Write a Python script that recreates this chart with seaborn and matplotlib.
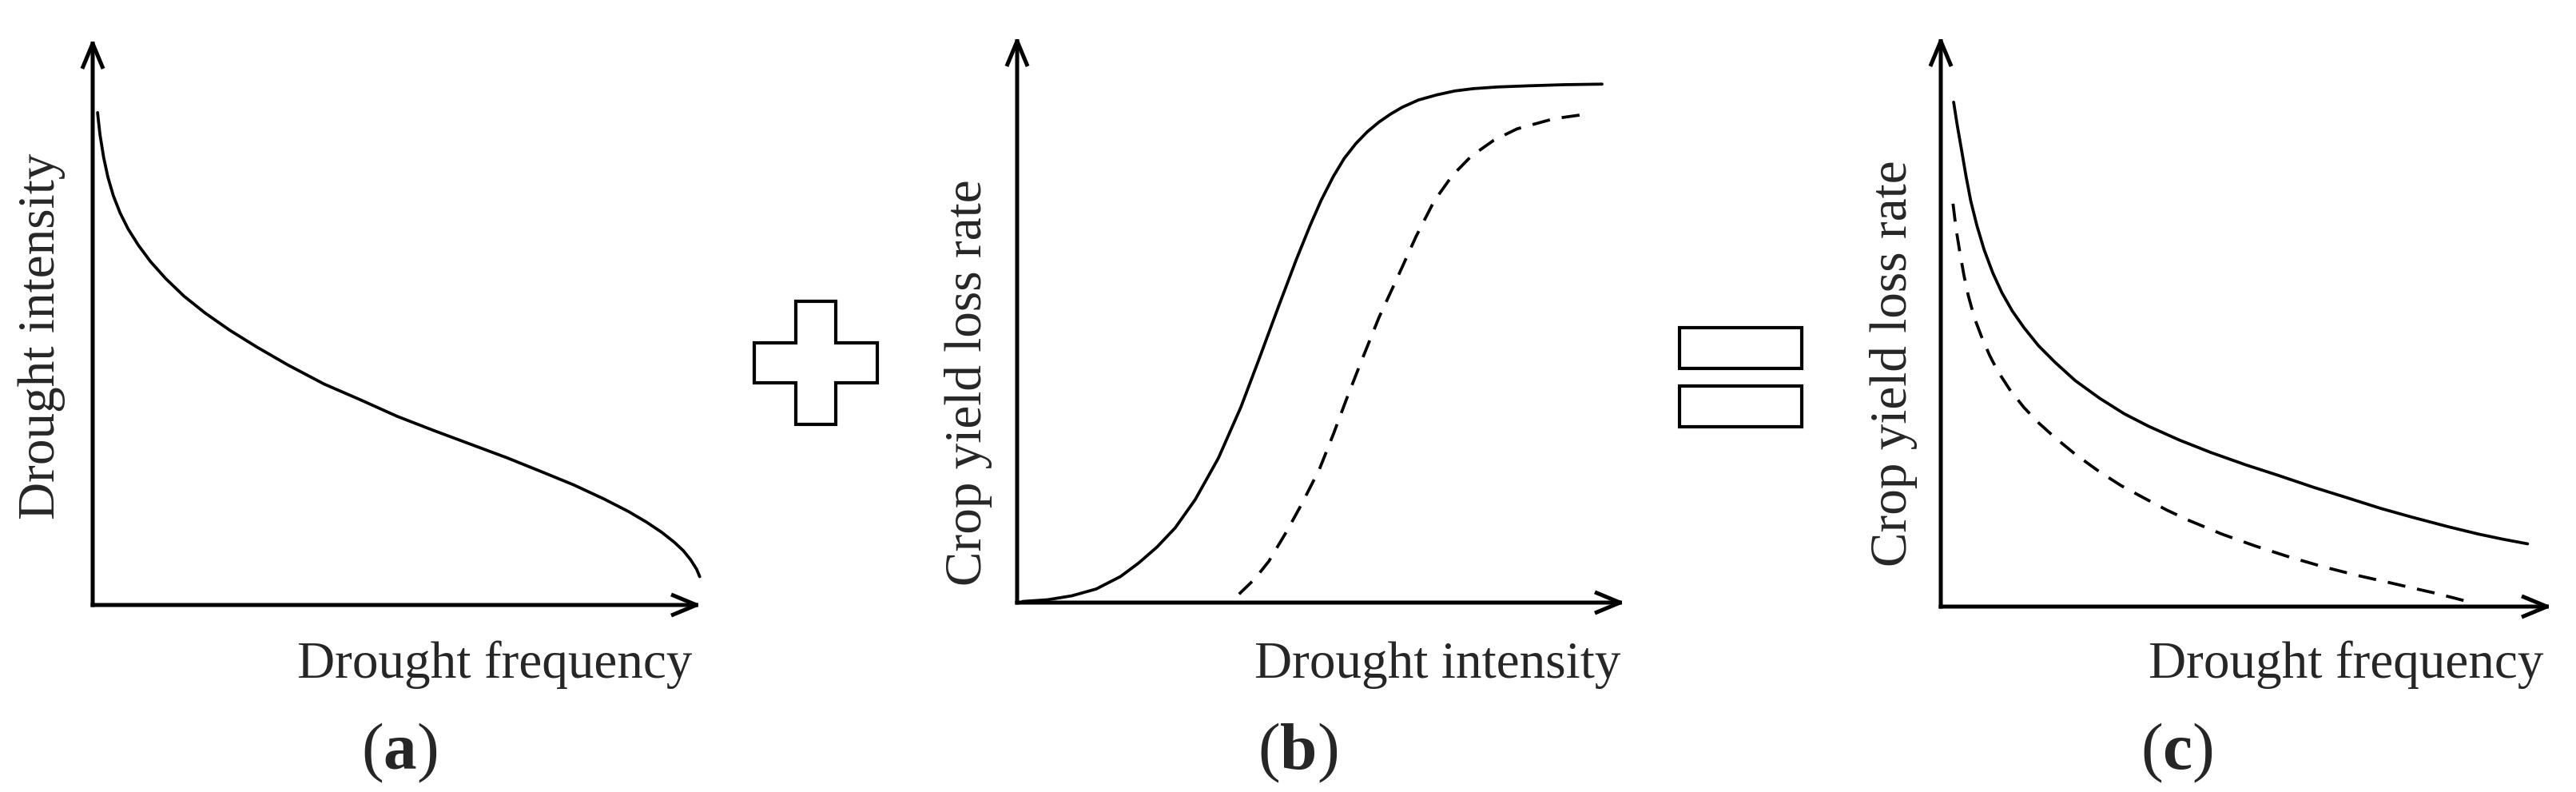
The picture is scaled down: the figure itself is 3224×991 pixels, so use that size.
import numpy as np
import pandas as pd
import matplotlib
matplotlib.use('Agg')
import matplotlib.pyplot as plt
import matplotlib.patches as mpatches
import seaborn as sns

# Curve values (arbitrary 0-10 units on both axes)
# (a) drought intensity vs drought frequency
a_freq = [0.08, 0.12, 0.18, 0.25, 0.34, 0.45, 0.58, 0.75, 0.95, 1.2, 1.5, 1.85,
          2.25, 2.7, 3.2, 3.8, 4.4, 5.0, 5.6, 6.2, 6.8, 7.4, 7.9, 8.4, 8.8, 9.1,
          9.35, 9.55, 9.7, 9.82, 9.92, 9.97]
a_int = [8.69, 8.30, 7.90, 7.55, 7.22, 6.92, 6.64, 6.35, 6.06, 5.76, 5.45, 5.15,
         4.85, 4.55, 4.24, 3.90, 3.62, 3.33, 3.08, 2.84, 2.60, 2.34, 2.12, 1.87,
         1.65, 1.46, 1.28, 1.11, 0.96, 0.80, 0.63, 0.50]

# (b) crop yield loss rate vs drought intensity
b_int_solid = [0.09, 0.5, 0.9, 1.3, 1.7, 2.0, 2.3, 2.6, 2.93, 3.31, 3.68, 3.99,
               4.29, 4.59, 4.82, 5.0, 5.2, 5.38, 5.57, 5.76, 5.95, 6.14, 6.33,
               6.6, 6.9, 7.2, 7.5, 7.9, 8.4, 9.0, 9.62]
b_loss_solid = [0.02, 0.05, 0.12, 0.24, 0.46, 0.70, 0.98, 1.32, 1.82, 2.55, 3.45,
                4.33, 5.20, 6.05, 6.66, 7.10, 7.52, 7.84, 8.10, 8.31, 8.48, 8.62,
                8.74, 8.87, 8.96, 9.03, 9.07, 9.10, 9.12, 9.14, 9.15]
b_int_dash = [3.65, 3.91, 4.14, 4.44, 4.67, 4.97, 5.20, 5.42, 5.65, 5.95, 6.26,
              6.56, 6.86, 7.16, 7.47, 7.84, 8.22, 8.83, 9.36]
b_loss_dash = [0.15, 0.42, 0.73, 1.27, 1.72, 2.35, 2.97, 3.60, 4.23, 5.03, 5.75,
               6.46, 7.09, 7.54, 7.88, 8.16, 8.36, 8.54, 8.62]

# (c) crop yield loss rate vs drought frequency
c_freq_solid = [0.21, 0.27, 0.34, 0.41, 0.49, 0.59, 0.71, 0.85, 1.0, 1.17, 1.36,
                1.6, 1.87, 2.2, 2.6, 3.0, 3.4, 3.9, 4.42, 5.0, 5.52, 6.1, 6.61,
                7.2, 7.7, 8.3, 8.8, 9.2, 9.6]
c_loss_solid = [8.84, 8.43, 8.00, 7.56, 7.11, 6.68, 6.25, 5.85, 5.50, 5.18, 4.89,
                4.57, 4.28, 3.96, 3.65, 3.38, 3.16, 2.92, 2.70, 2.48, 2.30, 2.09,
                1.92, 1.72, 1.57, 1.40, 1.27, 1.18, 1.10]
c_freq_dash = [0.2, 0.25, 0.31, 0.38, 0.45, 0.55, 0.67, 0.8, 0.93, 1.13, 1.36,
               1.6, 1.87, 2.2, 2.6, 2.95, 3.33, 3.7, 4.06, 4.6, 5.15, 5.7, 6.25,
               6.8, 7.34, 7.7, 8.07, 8.4, 8.72]
c_loss_dash = [7.06, 6.62, 6.22, 5.80, 5.45, 5.06, 4.72, 4.40, 4.13, 3.80, 3.49,
               3.22, 2.96, 2.67, 2.36, 2.12, 1.90, 1.69, 1.51, 1.27, 1.06, 0.87,
               0.70, 0.55, 0.42, 0.33, 0.24, 0.15, 0.06]

x_labels = ['Drought frequency', 'Drought intensity', 'Drought frequency']
y_labels = ['Drought intensity', 'Crop yield loss rate', 'Crop yield loss rate']
panel_tags = ['a', 'b', 'c']

sns.set_style('white')
plt.rcParams['font.family'] = ['Liberation Serif', 'DejaVu Serif']
plt.rcParams['mathtext.fontset'] = 'custom'
plt.rcParams['mathtext.rm'] = 'Liberation Serif'
plt.rcParams['mathtext.bf'] = 'Liberation Serif:bold'

W, H = 3224, 991
fig = plt.figure(figsize=(W / 100, H / 100), dpi=100, facecolor='w')

# axes boxes in pixels: left, top, right, bottom
boxes = [(116, 48, 878, 757), (1273, 45, 2034, 754), (2429, 45, 3194, 759)]
axes = []
for l, t, r, b in boxes:
    ax = fig.add_axes([l / W, (H - b) / H, (r - l) / W, (b - t) / H])
    ax.set_xlim(0, 10)
    ax.set_ylim(0, 10)
    ax.set_xticks([])
    ax.set_yticks([])
    for s in ax.spines.values():
        s.set_visible(False)
    ax.patch.set_alpha(0)
    for end in [(1, 0), (0, 1)]:
        ax.annotate('', xy=end, xytext=(0, 0), xycoords='axes fraction',
                    arrowprops=dict(arrowstyle='->,head_length=0.6,head_width=0.25',
                                    lw=3.6, color='black', mutation_scale=35,
                                    shrinkA=0, shrinkB=0, capstyle='projecting'))
    axes.append(ax)

solid_kw = dict(color='black', lw=2.7, estimator=None, errorbar=None, sort=False)
dash_kw = dict(color='black', lw=2.7, estimator=None, errorbar=None, sort=False,
               linestyle=(0, (6, 4)))

sns.lineplot(x=a_freq, y=a_int, ax=axes[0], **solid_kw)
sns.lineplot(x=b_int_solid, y=b_loss_solid, ax=axes[1], **solid_kw)
sns.lineplot(x=b_int_dash, y=b_loss_dash, ax=axes[1], **dash_kw)
sns.lineplot(x=c_freq_solid, y=c_loss_solid, ax=axes[2], **solid_kw)
sns.lineplot(x=c_freq_dash, y=c_loss_dash, ax=axes[2], **dash_kw)

# labels
xlab_right = [866, 2028, 3183]
ylab_x = [52, 1212, 2370]
ylab_y = [421, 479, 455]
tag_x = [500, 1624, 2724]
for i in range(3):
    fig.text(xlab_right[i] / W, (H - 848) / H, x_labels[i], ha='right', va='baseline',
             fontsize=47)
    fig.text(ylab_x[i] / W, (H - ylab_y[i]) / H, y_labels[i], rotation=90,
             ha='center', va='center', fontsize=47)
    fig.text(tag_x[i] / W, (H - 962) / H, '($\\mathbf{%s}$)' % panel_tags[i],
             ha='center', va='baseline', fontsize=60)

# plus sign between (a) and (b)
cx, cy, arm, half = 1021, 454, 77, 25
pts = [(-half, arm), (half, arm), (half, half), (arm, half), (arm, -half), (half, -half),
       (half, -arm), (-half, -arm), (-half, -half), (-arm, -half), (-arm, half), (-half, half)]
plus = mpatches.Polygon([((cx + dx) / W, (H - (cy - dy)) / H) for dx, dy in pts],
                        closed=True, fill=False, lw=3, ec='black', transform=fig.transFigure)
fig.patches.append(plus)

# equals sign between (b) and (c)
for top in [410, 483]:
    rect = mpatches.Rectangle((2102 / W, (H - top - 51) / H), 153 / W, 51 / H, fill=False,
                              lw=3, ec='black', transform=fig.transFigure)
    fig.patches.append(rect)

fig.savefig('out.png', dpi=100, facecolor='w')
